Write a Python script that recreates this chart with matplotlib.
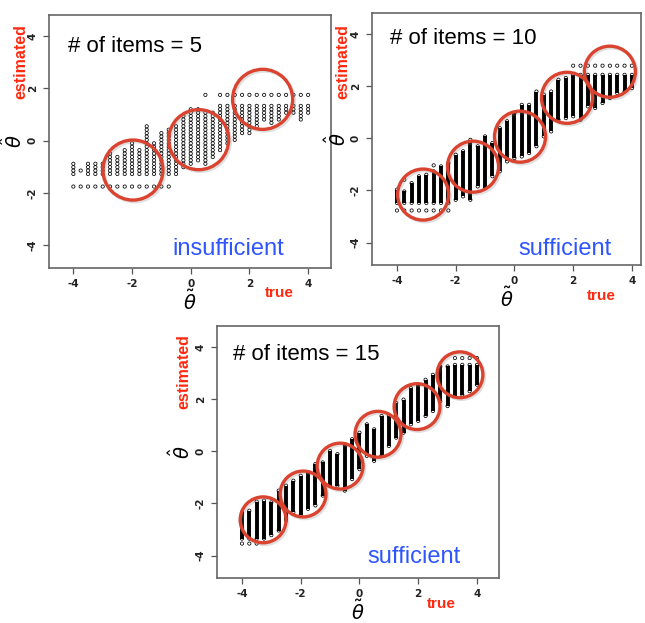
import matplotlib
matplotlib.use('Agg')
import matplotlib.pyplot as plt
import matplotlib.patheffects as pe

# true theta of each column (same grid in all three panels)
theta_true = [-4, -3.75, -3.5, -3.25, -3, -2.75, -2.5, -2.25, -2, -1.75, -1.5, -1.25,
              -1, -0.75, -0.5, -0.25, 0, 0.25, 0.5, 0.75, 1, 1.25, 1.5, 1.75, 2,
              2.25, 2.5, 2.75, 3, 3.25, 3.5, 3.75, 4]

# ---- 5 items: discrete estimate values, range per column ----
levels_5 = [-1.27, -1.14, -1.01, -0.88, -0.75, -0.62, -0.49, -0.36, -0.23, -0.10, 0.03,
            0.16, 0.29, 0.42, 0.55, 0.68, 0.81, 0.94, 1.07, 1.20, 1.33]
hi_5 = [-0.86, -1.14, -0.86, -0.86, -0.86, -0.54, -0.60, -0.35, -0.15, -0.35, 0.49, -0.09,
        0.30, 0.42, 0.55, 0.94, 1.19, 1.19, 1.06, 1.13, 1.32, 1.32, 1.32, 1.32, 1.32,
        1.32, 1.32, 1.32, 1.32, 1.32, 1.32, 1.32, 1.32]
lo_5 = [-1.27, -1.14, -1.27, -1.27, -1.27, -1.27, -1.27, -1.27, -1.27, -1.27, -1.27, -1.27,
        -1.27, -1.27, -1.27, -0.99, -0.86, -0.73, -0.86, -0.60, -0.35, -0.15, 0.04, 0.30,
        0.30, 0.55, 0.81, 0.62, 0.81, 1.06, 1.06, 0.87, 1.06]
floor_5 = -1.75
floor_x_5 = [-4, -3.75, -3.5, -3.25, -3, -2.75, -2.5, -2.25, -2, -1.75, -1.5, -1.25, -1, -0.75]
ceil_5 = 1.75
ceil_x_5 = [0.5, 1, 1.25, 1.5, 1.75, 2, 2.25, 2.5, 2.75, 3, 3.25, 3.5, 3.75, 4]

# ---- 10 items ----
hi_10 = [-1.97, -2.04, -1.72, -1.46, -1.40, -1.27, -1.08, -0.95, -0.63, -0.50, -0.06, -0.31,
         0.07, -0.18, 0.39, 0.65, 0.96, 1.28, 1.28, 1.79, 1.67, 1.79, 2.24, 2.31, 2.43,
         2.43, 2.43, 2.43, 2.43, 2.43, 2.43, 2.43, 2.43]
lo_10 = [-2.48, -2.48, -2.48, -2.48, -2.48, -2.48, -2.48, -2.48, -2.36, -2.23, -2.36, -1.85,
         -1.91, -1.46, -1.27, -0.89, -0.76, -0.70, -0.57, -0.31, 0.07, 0.26, 0.71, 0.77,
         0.84, 0.71, 1.22, 1.16, 1.35, 1.54, 1.73, 1.79, 1.92]
floor_10 = -2.77
floor_x_10 = [-4, -3.75, -3.5, -3.25, -3, -2.75, -2.5, -2.25]
ceil_10 = 2.78
ceil_x_10 = [2, 2.25, 2.5, 2.75, 3, 3.25, 3.5, 3.75, 4]
extra_x_10 = [-3.75, -2.75]
extra_y_10 = [-1.59, -1.04]

# ---- 15 items ----
hi_15 = [-2.34, -2.28, -1.93, -1.89, -1.96, -1.51, -1.32, -1.13, -0.94, -0.81, -0.49, -0.43,
         0.01, -0.11, 0.27, 0.46, 0.71, 1.03, 0.84, 1.35, 1.35, 1.85, 1.98, 2.42, 2.55,
         2.74, 2.93, 3.25, 3.25, 3.31, 3.31, 3.31, 3.31]
lo_15 = [-3.35, -3.35, -3.35, -3.35, -3.22, -3.04, -2.65, -2.34, -2.46, -2.21, -2.08, -1.70,
         -1.32, -1.32, -1.51, -1.07, -0.69, -0.18, -0.37, -0.18, 0.20, 0.52, 0.71, 1.03,
         1.16, 1.35, 1.54, 1.92, 1.73, 2.11, 2.17, 2.30, 2.55]
floor_15 = -3.54
floor_x_15 = [-4, -3.75, -3.5]
ceil_15 = 3.57
ceil_x_15 = [3.25, 3.5, 3.75, 4]

# highlighted regions (red circles)
c5_x = [-1.97, 0.27, 2.45]
c5_y = [-1.12, 0.04, 1.58]
c10_x = [-3.11, -1.41, 0.19, 1.79, 3.25]
c10_y = [-2.16, -1.09, 0.06, 1.55, 2.55]
c15_x = [-3.28, -1.92, -0.66, 0.63, 1.96, 3.42]
c15_y = [-2.63, -1.64, -0.57, 0.65, 1.71, 2.93]

RED = '#d9432f'
LABEL_RED = '#ff2a10'
BLUE = '#2f55ff'
W, H = 645, 623

fig = plt.figure(figsize=(W / 100, H / 100), dpi=100)


def make_axes(left, top, right, bottom, xlim):
    ax = fig.add_axes([left / W, 1 - bottom / H, (right - left) / W, (bottom - top) / H])
    ax.set_xlim(*xlim)
    ax.set_ylim(-4.86, 4.8)
    ax.set_xticks([-4, -2, 0, 2, 4])
    ax.set_yticks([-4, -2, 0, 2, 4])
    ax.set_xticklabels(['-4', '-2', '0', '2', '4'], fontweight='bold', fontsize=7.5, color='#222')
    ax.set_yticklabels(['-4', '-2', '0', '2', '4'], fontweight='bold', fontsize=7.5,
                       color='#222', rotation=90, va='center')
    ax.tick_params(direction='out', length=4, width=0.9, color='#555', pad=4)
    for s in ax.spines.values():
        s.set_color('#666')
        s.set_linewidth(1.2)
    ax.set_xlabel(r'$\tilde{\theta}$', fontsize=14, labelpad=0.5)
    ax.set_ylabel(r'$\hat{\theta}$', fontsize=14, labelpad=1)
    return ax


def open_points(ax, x, y):
    ax.scatter(x, y, s=5.5, facecolors='none', edgecolors='black', linewidths=0.55, zorder=3)


def dense_panel(ax, lo, hi, floor_y, floor_x, ceil_y, ceil_x):
    ax.vlines(theta_true, lo, hi, colors='black', linewidth=2.8, zorder=2)
    open_points(ax, theta_true, lo)
    open_points(ax, theta_true, hi)
    open_points(ax, floor_x, [floor_y] * len(floor_x))
    open_points(ax, ceil_x, [ceil_y] * len(ceil_x))


def circles(ax, cx, cy, size):
    sc = ax.scatter(cx, cy, s=size, facecolors='none', edgecolors=RED, linewidths=2.4, zorder=5)
    sc.set_path_effects([pe.SimpleLineShadow(offset=(1.2, -1.2), alpha=0.25, shadow_color='gray'),
                         pe.Normal()])


def annotate(ax, n, word, pos_items, pos_word, pos_est, pos_true):
    ax.text(pos_items[0], pos_items[1], '# of items = %d' % n, transform=ax.transAxes,
            fontsize=16, family='Liberation Sans', va='center', ha='left')
    ax.text(pos_word[0], pos_word[1], word, transform=ax.transAxes, fontsize=17,
            family='Liberation Sans', color=BLUE, va='center', ha='left')
    ax.text(pos_est[0], pos_est[1], 'estimated', transform=ax.transAxes, fontsize=11.5,
            family='Liberation Sans', fontweight='bold', color=LABEL_RED, rotation=90,
            va='center', ha='center', clip_on=False)
    ax.text(pos_true[0], pos_true[1], 'true', transform=ax.transAxes, fontsize=11,
            family='Liberation Sans', fontweight='bold', color=LABEL_RED,
            va='center', ha='center', clip_on=False)


# panel 1: 5 items
ax1 = make_axes(49, 15, 331, 268, (-4.83, 4.78))
px, py = [], []
for x, lo, hi in zip(theta_true, lo_5, hi_5):
    for lv in levels_5:
        if lo - 0.065 <= lv <= hi + 0.065:
            px.append(x)
            py.append(lv)
open_points(ax1, px, py)
open_points(ax1, floor_x_5, [floor_5] * len(floor_x_5))
open_points(ax1, ceil_x_5, [ceil_5] * len(ceil_x_5))
circles(ax1, c5_x, c5_y, 1870)
annotate(ax1, 5, 'insufficient', (0.067, 0.874), (0.436, 0.077), (-0.099, 0.814), (0.816, -0.099))

# panel 2: 10 items
ax2 = make_axes(372, 13, 641, 265, (-4.85, 4.31))
dense_panel(ax2, lo_10, hi_10, floor_10, floor_x_10, ceil_10, ceil_x_10)
open_points(ax2, extra_x_10, extra_y_10)
circles(ax2, c10_x, c10_y, 1350)
annotate(ax2, 10, 'sufficient', (0.067, 0.899), (0.543, 0.065), (-0.108, 0.806), (0.851, -0.123))

# panel 3: 15 items
ax3 = make_axes(217, 326, 499, 578, (-4.85, 4.75))
dense_panel(ax3, lo_15, hi_15, floor_15, floor_x_15, ceil_15, ceil_x_15)
circles(ax3, c15_x, c15_y, 1090)
annotate(ax3, 15, 'sufficient', (0.057, 0.885), (0.535, 0.085), (-0.117, 0.821), (0.794, -0.103))

fig.savefig('out.png', dpi=100)
